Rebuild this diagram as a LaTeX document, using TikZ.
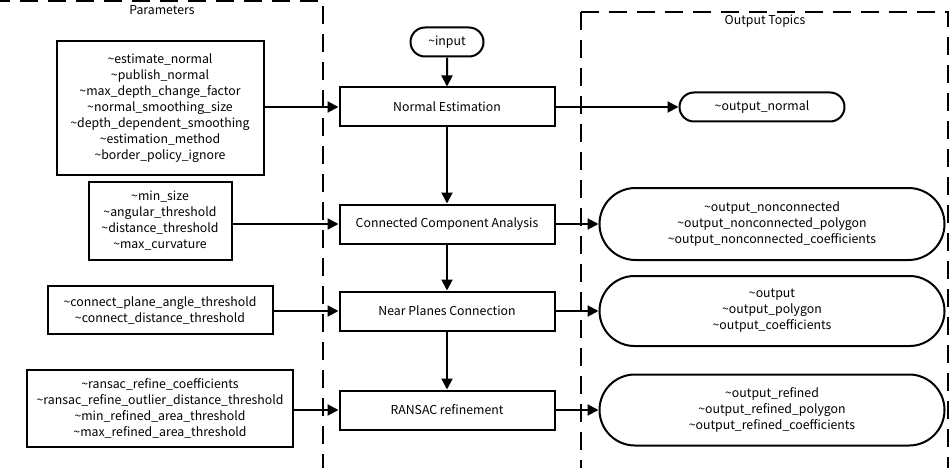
\documentclass[tikz,border=0pt]{standalone}
\usepackage{fontspec}
\setmainfont{Noto Sans CJK JP}
\usetikzlibrary{arrows.meta,shapes.misc}
\begin{document}
\begin{tikzpicture}[x=1pt,y=-1pt,
  every node/.style={font=\fontsize{12.3}{16}\selectfont,align=center,line width=2pt,inner sep=0pt},
  proc/.style={draw,minimum width=215pt,minimum height=39pt},
  par/.style={draw},
  outp/.style={draw,rounded rectangle},
  grp/.style={draw,dash pattern=on 18pt off 10pt,line width=2pt},
  arr/.style={-{Triangle[length=11pt,width=11pt]},line width=2pt}]
\useasboundingbox (0,0) rectangle (950,468);
\draw[grp] (-2,1) rectangle (323,480);
\node at (162,10) {Parameters};
\draw[grp] (581,12) rectangle (948,480);
\node at (765,21) {Output Topics};
\node[outp,minimum width=73pt,minimum height=29pt] (in) at (447,42) {\textasciitilde input};
\node[proc] (ne) at (447,107) {Normal Estimation};
\node[proc] (cc) at (447,224) {Connected Component Analysis};
\node[proc] (np) at (447,311) {Near Planes Connection};
\node[proc] (rr) at (447,410) {RANSAC refinement};
\node[par,minimum width=207pt,minimum height=134pt] (p1) at (160,108) {\textasciitilde estimate\_normal\\\textasciitilde publish\_normal\\\textasciitilde max\_depth\_change\_factor\\\textasciitilde normal\_smoothing\_size\\\textasciitilde depth\_dependent\_smoothing\\\textasciitilde estimation\_method\\\textasciitilde border\_policy\_ignore};
\node[par,minimum width=143pt,minimum height=78pt] (p2) at (160,221) {\textasciitilde min\_size\\\textasciitilde angular\_threshold\\\textasciitilde distance\_threshold\\\textasciitilde max\_curvature};
\node[par,minimum width=225pt,minimum height=48pt] (p3) at (160,310) {\textasciitilde connect\_plane\_angle\_threshold\\\textasciitilde connect\_distance\_threshold};
\node[par,minimum width=266pt,minimum height=77pt] (p4) at (160,408) {\textasciitilde ransac\_refine\_coefficients\\\textasciitilde ransac\_refine\_outlier\_distance\_threshold\\\textasciitilde min\_refined\_area\_threshold\\\textasciitilde max\_refined\_area\_threshold};
\node[outp,minimum width=165pt,minimum height=29pt] (o1) at (762,107) {\textasciitilde output\_normal};
\node[outp,minimum width=345pt,minimum height=72pt] (o2) at (772,224) {\textasciitilde output\_nonconnected\\\textasciitilde output\_nonconnected\_polygon\\\textasciitilde output\_nonconnected\_coefficients};
\node[outp,minimum width=345pt,minimum height=70pt] (o3) at (772,311) {\textasciitilde output\\\textasciitilde output\_polygon\\\textasciitilde output\_coefficients};
\node[outp,minimum width=345pt,minimum height=71pt] (o4) at (772,410) {\textasciitilde output\_refined\\\textasciitilde output\_refined\_polygon\\\textasciitilde output\_refined\_coefficients};
\draw[arr] (in) -- (ne);
\draw[arr] (ne) -- (cc);
\draw[arr] (cc) -- (np);
\draw[arr] (np) -- (rr);
\draw[arr] (p1.east|-ne) -- (ne);
\draw[arr] (p2.east|-cc) -- (cc);
\draw[arr] (p3.east|-np) -- (np);
\draw[arr] (p4.east|-rr) -- (rr);
\draw[arr] (ne) -- (o1);
\draw[arr] (cc) -- (o2);
\draw[arr] (np) -- (o3);
\draw[arr] (rr) -- (o4);
\end{tikzpicture}
\end{document}
